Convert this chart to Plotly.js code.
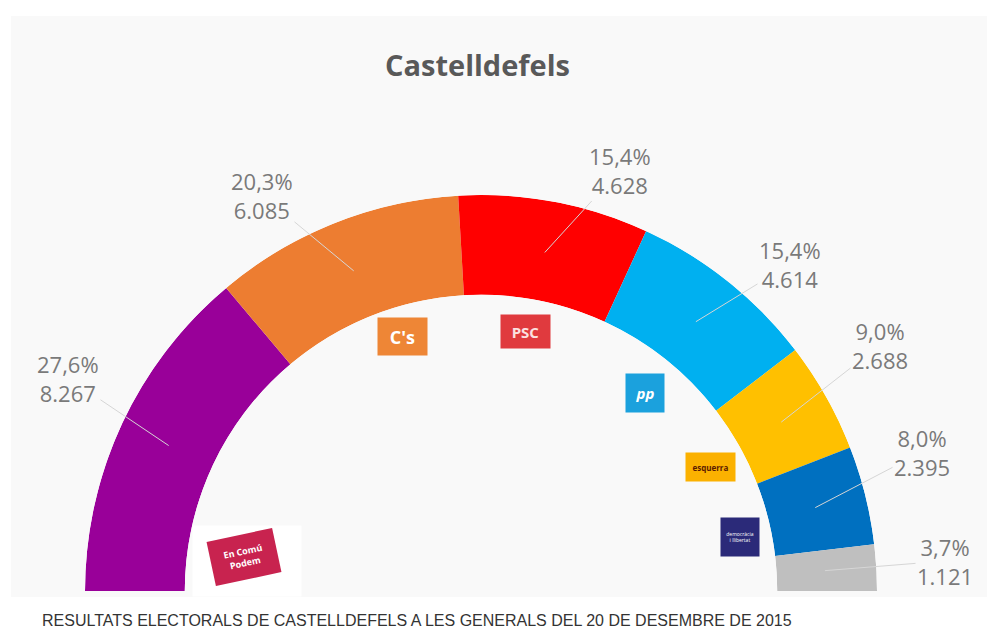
<!DOCTYPE html>
<html><head><meta charset="utf-8">
<script src="https://cdn.plot.ly/plotly-3.0.1.min.js"></script>
<style>html,body{margin:0;padding:0;background:#fff}#chart{width:987px;height:631px}</style>
</head><body><div id="chart"></div>
<script>
const parties = ['En Comú Podem', "C's", 'PSC', 'PP', 'ERC', 'DiL', 'Altres'];
const votes = [8267, 6085, 4628, 4614, 2688, 2395, 1121];
const pctLabels = ['27,6%', '20,3%', '15,4%', '15,4%', '9,0%', '8,0%', '3,7%'];
const voteLabels = ['8.267', '6.085', '4.628', '4.614', '2.688', '2.395', '1.121'];
const colors = ['#990099', '#ED7D31', '#FF0000', '#00B0F0', '#FFC000', '#0070C0', '#BFBFBF'];

const W = 987, H = 631;
const CX = 481, CY = 591, R = 396, HOLE = 0.748;

const total = votes.reduce((a, b) => a + b, 0);
let cum = 0;
const theta = [], width = [];
votes.forEach(v => {
  width.push(v / total * 180);
  theta.push((cum + v / 2) / total * 180);
  cum += v;
});

const trace = {
  type: 'barpolar',
  r: votes.map(() => 1),
  base: 0,
  theta: theta,
  width: width,
  text: parties,
  marker: { color: colors, line: { width: 0 } },
  hoverinfo: 'text+name',
  showlegend: false
};

// label text centers (layout positions)
const labelPos = [[68, 378], [262, 195], [620, 170], [790, 264], [880, 345], [922, 452], [945, 561]];

const annotations = [];
theta.forEach((t, i) => {
  const ang = (180 - t) * Math.PI / 180;
  const rr = R * 0.87;
  const px = CX + rr * Math.cos(ang);
  const py = CY - rr * Math.sin(ang);
  annotations.push({
    x: px / W, y: 1 - py / H, xref: 'paper', yref: 'paper',
    text: pctLabels[i] + '<br>' + voteLabels[i],
    showarrow: true, arrowhead: 0, arrowwidth: 1, arrowcolor: '#d6d6d6', standoff: 0,
    ax: labelPos[i][0] - px, ay: labelPos[i][1] - py,
    font: { family: 'Open Sans, sans-serif', size: 22, color: '#7a7a7a' },
    align: 'center'
  });
});

function logo(cx, cy, w, h, bg, txt, font, extra) {
  return Object.assign({
    x: cx / W, y: 1 - cy / H, xref: 'paper', yref: 'paper', xanchor: 'center', yanchor: 'middle',
    width: w, height: h, bgcolor: bg, text: txt, showarrow: false, font: font, borderpad: 0
  }, extra || {});
}

annotations.push(
  logo(402, 336, 49, 37, '#EE8636', "<b>C's</b>", { family: 'Open Sans, sans-serif', size: 18, color: '#ffffff' }),
  logo(525, 331, 49, 33, '#E03A3E', '<b>PSC</b>', { family: 'Open Sans, sans-serif', size: 15, color: '#fbe0e0' }),
  logo(645, 393, 38, 38, '#1BA1DD', '<b><i>pp</i></b>', { family: 'Open Sans, sans-serif', size: 15, color: '#ffffff' }),
  logo(710, 467, 49, 28, '#FBB100', '<b>esquerra</b>', { family: 'Open Sans, sans-serif', size: 8, color: '#5a1a00' }),
  logo(740, 537, 38, 38, '#2B2A79', 'democràcia<br>i llibertat', { family: 'Open Sans, sans-serif', size: 5, color: '#ffffff' }),
  logo(247, 561, 108, 70, '#ffffff', '', { size: 10 }),
  logo(244, 557, 66, 44, '#C8234F', '<b>En Comú<br>Podem</b>', { family: 'Open Sans, sans-serif', size: 9, color: '#ffffff' }, { textangle: -12 }),
  {
    x: 477 / W, y: 1 - 65 / H, xref: 'paper', yref: 'paper', xanchor: 'center', yanchor: 'middle', showarrow: false,
    text: '<b>Castelldefels</b>', font: { family: 'Open Sans, sans-serif', size: 29, color: '#595959' }
  },
  {
    x: 40 / W, y: 1 - 620 / H, xref: 'paper', yref: 'paper', xanchor: 'left', yanchor: 'middle', showarrow: false,
    text: 'RESULTATS ELECTORALS DE CASTELLDEFELS A LES GENERALS DEL 20 DE DESEMBRE DE 2015',
    font: { family: 'Liberation Sans, Arial, sans-serif', size: 16, color: '#333333' }
  }
);

const layout = {
  width: W, height: H,
  margin: { l: 0, r: 0, t: 0, b: 0 },
  paper_bgcolor: '#ffffff',
  showlegend: false,
  polar: {
    domain: { x: [(CX - R) / W, (CX + R) / W], y: [(H - CY) / H, (H - CY + R) / H] },
    sector: [0, 180],
    hole: HOLE,
    bgcolor: 'rgba(0,0,0,0)',
    radialaxis: { visible: false, range: [0, 1] },
    angularaxis: { visible: false, rotation: 180, direction: 'clockwise' }
  },
  shapes: [{
    type: 'rect', xref: 'paper', yref: 'paper', layer: 'below',
    x0: 11 / W, x1: 1, y0: 1 - 597 / H, y1: 1 - 16 / H,
    fillcolor: '#f9f9f9', line: { width: 0 }
  }],
  annotations: annotations
};

Plotly.newPlot('chart', [trace], layout, { displayModeBar: false, staticPlot: true });
</script>
</body></html>
